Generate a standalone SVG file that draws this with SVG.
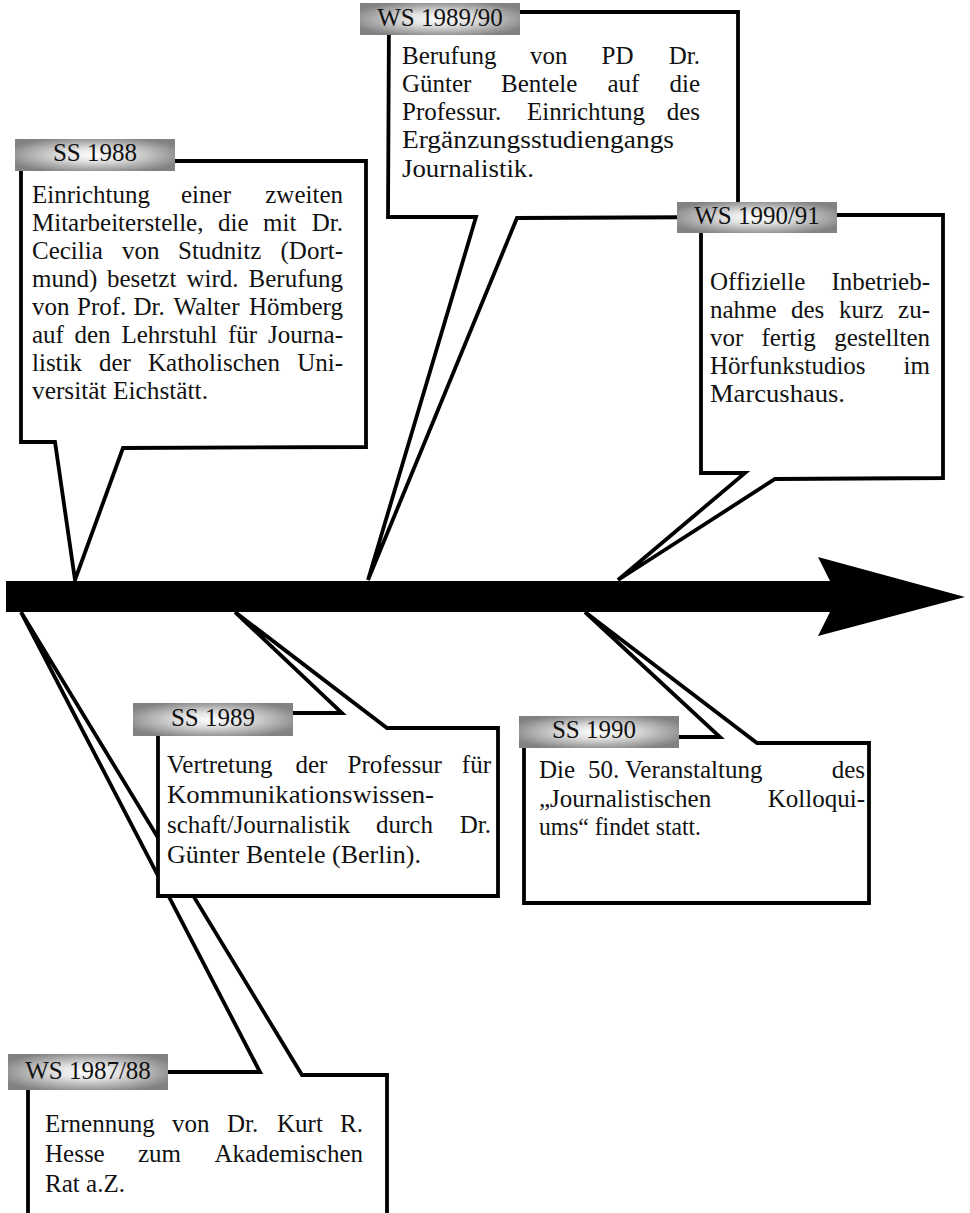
<svg xmlns="http://www.w3.org/2000/svg" width="970" height="1213" viewBox="0 0 970 1213">
<defs>
<radialGradient id="lg" cx="50%" cy="50%" r="58%">
<stop offset="0" stop-color="#ffffff"/>
<stop offset="0.35" stop-color="#e2e2e2"/>
<stop offset="1" stop-color="#828282"/>
</radialGradient>
<style>
.box{fill:#fff;stroke:#000;stroke-width:3.8;stroke-linejoin:miter;stroke-miterlimit:6}
.lbl{fill:url(#lg)}
.t{font-family:"Liberation Serif","Times New Roman",serif;font-size:25px;fill:#111}
.lt{font-family:"Liberation Serif","Times New Roman",serif;font-size:25px;fill:#111;text-anchor:middle}
.e{text-anchor:end}
</style>
</defs>
<rect width="970" height="1213" fill="#fff"/>

<g id="ws8788">
<path class="box" d="M28,1072 L260,1072 L21,612 L302,1075 L387,1075 L387,1230 L28,1230 Z"/>
<rect class="lbl" x="8" y="1054" width="160" height="36"/>
<text class="lt" x="88" y="1079">WS 1987/88</text>
<text class="t" y="1132"><tspan x="45">Ernennung</tspan><tspan x="172">von</tspan><tspan x="227">Dr.</tspan><tspan x="277">Kurt</tspan><tspan x="363" class="e">R.</tspan></text>
<text class="t" y="1162"><tspan x="45">Hesse</tspan><tspan x="138">zum</tspan><tspan x="363" class="e">Akademischen</tspan></text>
<text class="t" x="45" y="1192" textLength="80" lengthAdjust="spacingAndGlyphs">Rat a.Z.</text>
</g>

<g id="ss1988">
<path class="box" d="M21,161 L366,161 L366,447 L123,448 L75,580 L55,442 L21,442 Z"/>
<rect class="lbl" x="15" y="139" width="160" height="32"/>
<text class="lt" x="95" y="161">SS 1988</text>
<text class="t" y="203"><tspan x="32">Einrichtung</tspan><tspan x="181">einer</tspan><tspan x="343" class="e">zweiten</tspan></text>
<text class="t" y="231"><tspan x="32">Mitarbeiterstelle,</tspan><tspan x="218">die</tspan><tspan x="263">mit</tspan><tspan x="343" class="e">Dr.</tspan></text>
<text class="t" y="259"><tspan x="32">Cecilia</tspan><tspan x="122">von</tspan><tspan x="178">Studnitz</tspan><tspan x="343" class="e">(Dort-</tspan></text>
<text class="t" y="287"><tspan x="32">mund)</tspan><tspan x="107">besetzt</tspan><tspan x="186.5">wird.</tspan><tspan x="343" class="e">Berufung</tspan></text>
<text class="t" y="315"><tspan x="32">von</tspan><tspan x="77">Prof.</tspan><tspan x="133.5">Dr.</tspan><tspan x="173.5">Walter</tspan><tspan x="343" class="e">Hömberg</tspan></text>
<text class="t" y="343"><tspan x="32">auf</tspan><tspan x="74.5">den</tspan><tspan x="121.5">Lehrstuhl</tspan><tspan x="228">für</tspan><tspan x="343" class="e">Journa-</tspan></text>
<text class="t" y="371"><tspan x="32">listik</tspan><tspan x="99">der</tspan><tspan x="148">Katholischen</tspan><tspan x="343" class="e">Uni-</tspan></text>
<text class="t" x="32" y="399" textLength="176" lengthAdjust="spacingAndGlyphs">versität Eichstätt.</text>
</g>

<g id="ws8990">
<path class="box" d="M389,12 L738,12 L738,217 L517,218 L368,580 L476,217 L388,217 Z"/>
<rect class="lbl" x="360" y="3" width="160" height="32"/>
<text class="lt" x="440" y="25.5">WS 1989/90</text>
<text class="t" y="63.5"><tspan x="402">Berufung</tspan><tspan x="530">von</tspan><tspan x="601.5">PD</tspan><tspan x="700" class="e">Dr.</tspan></text>
<text class="t" y="91.8"><tspan x="402">Günter</tspan><tspan x="501">Bentele</tspan><tspan x="607.5">auf</tspan><tspan x="700" class="e">die</tspan></text>
<text class="t" y="120.1"><tspan x="402">Professur.</tspan><tspan x="527">Einrichtung</tspan><tspan x="700" class="e">des</tspan></text>
<text class="t" x="402" y="148.4" textLength="272" lengthAdjust="spacingAndGlyphs">Ergänzungsstudiengangs</text>
<text class="t" x="402" y="176.7" textLength="132" lengthAdjust="spacingAndGlyphs">Journalistik.</text>
</g>

<g id="ws9091">
<path class="box" d="M701,215 L943,215 L943,478 L775,479 L618,580 L745,473 L701,473 Z"/>
<rect class="lbl" x="677" y="202" width="160" height="31"/>
<text class="lt" x="757" y="223.5">WS 1990/91</text>
<text class="t" y="290"><tspan x="710">Offizielle</tspan><tspan x="930" class="e">Inbetrieb-</tspan></text>
<text class="t" y="318"><tspan x="710">nahme</tspan><tspan x="791">des</tspan><tspan x="839">kurz</tspan><tspan x="930" class="e">zu-</tspan></text>
<text class="t" y="346"><tspan x="710">vor</tspan><tspan x="761.5">fertig</tspan><tspan x="930" class="e">gestellten</tspan></text>
<text class="t" y="374"><tspan x="710">Hörfunkstudios</tspan><tspan x="930" class="e">im</tspan></text>
<text class="t" x="710" y="402" textLength="135" lengthAdjust="spacingAndGlyphs">Marcushaus.</text>
</g>

<g id="ss1989">
<path class="box" d="M158,713 L342,713 L235,612 L387,728 L498,728 L498,896 L158,896 Z"/>
<rect class="lbl" x="133" y="703" width="160" height="33"/>
<text class="lt" x="213" y="726">SS 1989</text>
<text class="t" y="773"><tspan x="167">Vertretung</tspan><tspan x="295.5">der</tspan><tspan x="347.5">Professur</tspan><tspan x="491" class="e">für</tspan></text>
<text class="t" x="167" y="803" textLength="267" lengthAdjust="spacingAndGlyphs">Kommunikationswissen-</text>
<text class="t" y="833"><tspan x="167">schaft/Journalistik</tspan><tspan x="376">durch</tspan><tspan x="491" class="e">Dr.</tspan></text>
<text class="t" x="167" y="863" textLength="254" lengthAdjust="spacingAndGlyphs">Günter Bentele (Berlin).</text>
</g>

<g id="ss1990">
<path class="box" d="M524,737 L720,737 L585,612 L757,743 L869,743 L869,903 L524,903 Z"/>
<rect class="lbl" x="519" y="716" width="160" height="32"/>
<text class="lt" x="594" y="738">SS 1990</text>
<text class="t" y="778"><tspan x="539">Die</tspan><tspan x="588">50.</tspan><tspan x="625">Veranstaltung</tspan><tspan x="865" class="e">des</tspan></text>
<text class="t" y="806.5"><tspan x="539">„Journalistischen</tspan><tspan x="865" class="e">Kolloqui-</tspan></text>
<text class="t" x="539" y="835" textLength="162" lengthAdjust="spacingAndGlyphs">ums“ findet statt.</text>
</g>

<g id="connectors">
<polygon id="timeline" points="6,581 830,581 818,557 965,597 818,636 830,612 6,612" fill="#000"/>
</g>
</svg>
